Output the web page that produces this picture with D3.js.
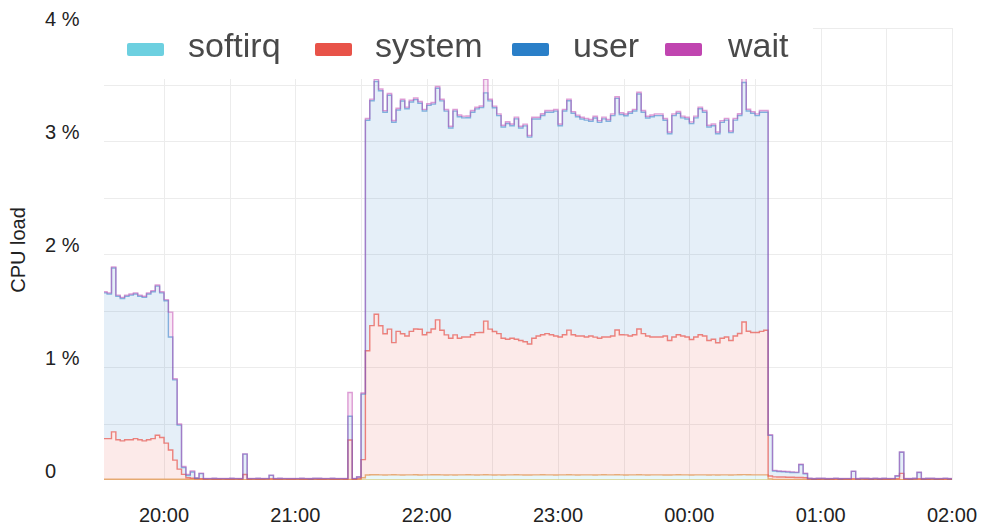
<!DOCTYPE html>
<html><head><meta charset="utf-8">
<script src="https://cdn.jsdelivr.net/npm/d3@7"></script>
<style>
body{margin:0;background:#fff;}
svg{display:block;font-family:"Liberation Sans",Arial,sans-serif;}
</style>
</head><body>
<svg id="chart" width="981" height="529"></svg>
<script>
// ---------- data ----------
const seriesNames = ["softirq", "system", "user", "wait"];
const seriesColors = ["#6dd0e0", "#e8534a", "#2a7fc8", "#c044b0"];
const startTime = "2020-01-01T19:32:00";
const stepMinutes = 2;

const softirq = [
  .006,.006,.006,.006,.006,.006,.006,.006,.006,.006,
  .006,.006,.006,.006,.006,.006,.006,.006,.006,.006,
  .006,.006,.006,.003,.003,.003,.003,.003,.003,.003,
  .003,.003,.003,.003,.003,.003,.003,.003,.003,.003,
  .003,.003,.003,.003,.003,.003,.003,.003,.003,.003,
  .003,.003,.003,.003,.003,.003,.004,.003,.003,.02,
  .044,.046,.047,.045,.044,.045,.046,.045,.044,.045,
  .045,.046,.044,.045,.045,.046,.047,.045,.044,.045,
  .044,.045,.045,.046,.045,.044,.045,.046,.045,.044,
  .045,.044,.045,.045,.046,.045,.044,.044,.045,.045,
  .046,.045,.045,.044,.045,.045,.046,.045,.044,.045,
  .045,.045,.044,.045,.046,.045,.045,.047,.045,.044,
  .045,.045,.046,.045,.044,.045,.045,.045,.044,.044,
  .045,.046,.045,.045,.044,.045,.045,.045,.044,.045,
  .044,.045,.045,.044,.045,.046,.048,.046,.045,.045,
  .045,.045,.01,.004,.004,.004,.004,.004,.004,.004,
  .004,.003,.003,.003,.003,.003,.003,.003,.003,.003,
  .003,.003,.003,.003,.003,.003,.003,.003,.003,.003,
  .003,.003,.003,.003,.003,.003,.003,.003,.003,.003,
  .003,.003,.003,.003,.003
];
const system = [
  .36,.36,.42,.35,.34,.35,.35,.36,.35,.34,
  .35,.36,.39,.37,.32,.26,.17,.09,.044,.014,
  .01,.005,.005,.004,.005,.004,.004,.005,.004,.004,
  .005,.004,.046,.004,.005,.004,.004,.005,.008,.004,
  .004,.005,.004,.004,.005,.004,.004,.004,.005,.004,
  .004,.005,.004,.004,.005,.004,.35,.004,.01,.16,
  1.10,1.32,1.42,1.32,1.25,1.29,1.17,1.27,1.25,1.23,
  1.27,1.29,1.29,1.24,1.26,1.29,1.37,1.28,1.24,1.21,
  1.24,1.21,1.22,1.22,1.24,1.26,1.26,1.36,1.29,1.27,
  1.25,1.21,1.20,1.21,1.20,1.19,1.18,1.16,1.21,1.23,
  1.24,1.25,1.24,1.23,1.22,1.24,1.28,1.24,1.23,1.23,
  1.22,1.23,1.22,1.21,1.22,1.22,1.23,1.28,1.24,1.24,
  1.23,1.24,1.29,1.25,1.23,1.22,1.22,1.22,1.23,1.19,
  1.22,1.24,1.23,1.22,1.20,1.22,1.24,1.23,1.19,1.20,
  1.17,1.21,1.22,1.19,1.23,1.25,1.35,1.27,1.26,1.26,
  1.27,1.28,.025,.024,.023,.022,.021,.02,.018,.018,
  .016,.005,.004,.004,.005,.004,.004,.005,.004,.004,
  .004,.008,.004,.005,.004,.004,.005,.004,.004,.004,
  .005,.008,.056,.004,.004,.005,.008,.004,.004,.005,
  .004,.004,.005,.004,.004
];
const user = [
  1.29,1.28,1.45,1.27,1.26,1.27,1.28,1.28,1.27,1.27,
  1.29,1.30,1.32,1.28,1.26,1.00,.71,.39,.06,.02,
  .055,.005,.045,.005,.004,.006,.005,.004,.005,.006,
  .004,.005,.18,.005,.004,.006,.005,.004,.03,.005,
  .006,.004,.005,.005,.004,.006,.005,.004,.005,.006,
  .005,.004,.006,.005,.004,.005,.21,.005,.013,.58,
  2.04,1.99,2.06,2.08,1.96,2.07,1.95,1.96,2.06,2.01,
  2.03,2.03,2.00,1.98,2.01,1.99,2.05,2.03,1.98,1.86,
  1.98,1.96,1.94,1.94,1.97,1.98,1.99,2.02,2.02,1.98,
  1.93,1.87,1.91,1.88,1.95,1.88,1.91,1.83,1.94,1.92,
  1.94,1.96,1.97,1.99,1.87,1.98,2.03,1.96,1.94,1.92,
  1.92,1.90,1.94,1.91,1.93,1.91,1.95,2.05,1.95,1.94,
  1.97,1.98,2.08,1.96,1.93,1.95,1.96,1.96,1.91,1.83,
  1.96,1.96,1.93,1.93,1.91,1.94,2.00,1.98,1.89,1.89,
  1.85,1.91,1.92,1.84,1.91,1.93,2.12,1.95,1.94,1.92,
  1.94,1.93,.36,.052,.048,.047,.045,.043,.043,.113,
  .035,.005,.004,.006,.005,.004,.005,.006,.004,.005,
  .005,.065,.004,.005,.006,.004,.005,.004,.006,.005,
  .004,.025,.187,.005,.004,.005,.055,.004,.006,.005,
  .004,.005,.006,.004,.005
];
const wait = [
  .01,.01,.01,.01,.01,.01,.01,.01,.01,.01,
  .01,.01,.01,.01,.01,.22,.01,.01,.01,.01,
  .01,.005,.005,.002,.002,.002,.002,.002,.002,.002,
  .002,.002,.002,.002,.002,.002,.002,.002,.002,.002,
  .002,.002,.002,.002,.002,.002,.002,.002,.002,.002,
  .002,.002,.002,.002,.002,.002,.21,.002,.003,.01,
  .015,.015,.02,.015,.015,.015,.015,.015,.015,.015,
  .015,.015,.015,.015,.015,.015,.015,.015,.015,.015,
  .015,.015,.015,.015,.015,.015,.015,.12,.015,.015,
  .015,.015,.015,.015,.015,.015,.015,.015,.015,.015,
  .015,.015,.015,.015,.015,.015,.015,.015,.015,.015,
  .015,.015,.015,.015,.015,.015,.015,.015,.015,.015,
  .015,.015,.015,.015,.015,.015,.015,.015,.015,.015,
  .015,.015,.015,.015,.015,.015,.015,.015,.015,.015,
  .015,.015,.015,.015,.015,.015,.04,.015,.015,.015,
  .015,.015,.005,.005,.005,.005,.005,.005,.005,.005,
  .005,.002,.002,.002,.002,.002,.002,.002,.002,.002,
  .002,.002,.002,.002,.002,.002,.002,.002,.002,.002,
  .002,.002,.002,.002,.002,.002,.002,.002,.002,.002,
  .002,.002,.002,.002,.002
];

const yTicks = [0, 1, 2, 3, 4];
const yTickLabels = ["0", "1 %", "2 %", "3 %", "4 %"];
const xTickTimes = ["2020-01-01T20:00:00","2020-01-01T21:00:00","2020-01-01T22:00:00",
  "2020-01-01T23:00:00","2020-01-02T00:00:00","2020-01-02T01:00:00","2020-01-02T02:00:00"];
const xTickLabels = ["20:00", "21:00", "22:00", "23:00", "00:00", "01:00", "02:00"];
const yTitle = "CPU load";

// ---------- build ----------
const seriesValues = [softirq, system, user, wait];
const t0 = new Date(startTime);
const rows = softirq.map((_, i) => {
  const r = { time: new Date(t0.getTime() + i * stepMinutes * 60000) };
  seriesNames.forEach((k, s) => r[k] = seriesValues[s][i]);
  return r;
});

const W = 981, H = 529;
const plot = { left: 104, right: 952, top: 28, bottom: 480 };
const svg = d3.select("#chart");

const x = d3.scaleTime()
  .domain([new Date("2020-01-01T19:32:35"), new Date("2020-01-02T02:00:00")])
  .range([plot.left, plot.right]);
const y = d3.scaleLinear().domain([0, 4]).range([plot.bottom, plot.top]);

// grid
const grid = svg.append("g").attr("stroke", "#ececec").attr("stroke-width", 1);
d3.range(0.5, 4.01, 0.5).forEach(v => {
  grid.append("line").attr("x1", plot.left).attr("x2", plot.right)
    .attr("y1", Math.round(y(v)) + 0.5).attr("y2", Math.round(y(v)) + 0.5);
});
x.ticks(d3.timeMinute.every(30)).forEach(t => {
  grid.append("line").attr("y1", plot.top).attr("y2", plot.bottom)
    .attr("x1", Math.round(x(t)) + 0.5).attr("x2", Math.round(x(t)) + 0.5);
});

// stacked areas
const stack = d3.stack().keys(seriesNames)(rows);
svg.append("clipPath").attr("id", "clip").append("rect")
  .attr("x", plot.left).attr("y", plot.top - 2)
  .attr("width", plot.right - plot.left).attr("height", plot.bottom - plot.top + 2);

const area = d3.area().curve(d3.curveStepAfter)
  .x(d => x(d.data.time)).y0(d => y(d[0])).y1(d => y(d[1]));
const topLine = d3.line().curve(d3.curveStepAfter)
  .x(d => x(d.data.time)).y(d => y(d[1]));
const baseLine = d3.line().curve(d3.curveStepAfter)
  .x(d => x(d.data.time)).y(d => y(d[0]));

const g = svg.append("g").attr("clip-path", "url(#clip)");
stack.forEach((layer, i) => {
  g.append("path").datum(layer).attr("d", area)
    .attr("fill", seriesColors[i]).attr("fill-opacity", i === 0 ? 0.16 : 0.12);
});
const lineStyles = [
  { color: "#e6a46c", op: 0.9 },
  { color: seriesColors[1], op: 0.7 },
  { color: seriesColors[2], op: 0.55 },
  { color: seriesColors[3], op: 0.5 }
];
g.append("path").datum(stack[0]).attr("d", baseLine)
  .attr("fill", "none").attr("stroke", "#d9d28a").attr("stroke-width", 1.5);
stack.forEach((layer, i) => {
  g.append("path").datum(layer).attr("d", topLine)
    .attr("fill", "none").attr("stroke", lineStyles[i].color)
    .attr("stroke-opacity", lineStyles[i].op).attr("stroke-width", 1.4);
});

// y tick labels
yTicks.forEach((v, i) => {
  svg.append("text").attr("x", 45).attr("y", y(v) - 2)
    .attr("font-size", 20).attr("fill", "#222").text(yTickLabels[i]);
});
// x tick labels
xTickTimes.forEach((t, i) => {
  svg.append("text").attr("x", x(new Date(t))).attr("y", 522)
    .attr("text-anchor", "middle").attr("font-size", 20).attr("fill", "#222")
    .text(xTickLabels[i]);
});
// y title
svg.append("text").attr("transform", "translate(25,250) rotate(-90)")
  .attr("text-anchor", "middle").attr("font-size", 20).attr("fill", "#222").text(yTitle);

// legend
const defs = svg.append("defs");
defs.append("filter").attr("id", "soft").append("feGaussianBlur").attr("stdDeviation", 0.7);
svg.append("rect").attr("x", plot.left).attr("y", 0).attr("width", 813 - plot.left).attr("height", 79)
  .attr("fill", "#fff");
const legendSwatchX = [127, 315, 512, 665];
const legendTextX = [188, 375, 573, 728];
const lg = svg.append("g").attr("filter", "url(#soft)");
seriesNames.forEach((n, i) => {
  lg.append("rect").attr("x", legendSwatchX[i]).attr("y", 43).attr("width", 37).attr("height", 13)
    .attr("rx", 2).attr("fill", seriesColors[i]);
  lg.append("text").attr("x", legendTextX[i]).attr("y", 57)
    .attr("font-size", 34).attr("fill", "#4a4a4a").text(n);
});
</script>
</body></html>
